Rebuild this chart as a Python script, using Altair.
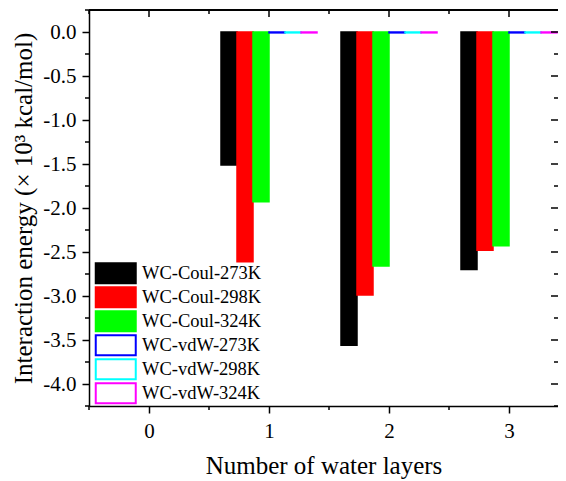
import altair as alt
import pandas as pd

# ---- data ----
layers = [1, 2, 3]
series = ["WC-Coul-273K", "WC-Coul-298K", "WC-Coul-324K",
          "WC-vdW-273K", "WC-vdW-298K", "WC-vdW-324K"]
coul_273 = [-1.51, -3.56, -2.70]
coul_298 = [-2.61, -2.99, -2.48]
coul_324 = [-1.93, -2.66, -2.43]
vdw_273 = [-0.01, -0.01, -0.01]
vdw_298 = [-0.01, -0.01, -0.01]
vdw_324 = [-0.01, -0.01, -0.01]
fill_colors = ["#000000", "#ff0000", "#00ff00", "#ffffff", "#ffffff", "#ffffff"]
stroke_colors = ["#000000", "#ff0000", "#00ff00", "#0000ff", "#00ffff", "#ff00ff"]

x_major = [0, 1, 2, 3]
x_minor = [-0.5, 0.5, 1.5, 2.5]
y_major = [-4.0, -3.5, -3.0, -2.5, -2.0, -1.5, -1.0, -0.5, 0.0]
y_minor = [-4.25, -3.75, -3.25, -2.75, -2.25, -1.75, -1.25, -0.75, -0.25, 0.25]

W, H = 469, 396
FONT = "Liberation Serif"
X_TITLE = "Number of water layers"
Y_TITLE = "Interaction energy (× 10³ kcal/mol)"

rows = []
for i, (name, vals) in enumerate(zip(series, [coul_273, coul_298, coul_324, vdw_273, vdw_298, vdw_324])):
    for lay, v in zip(layers, vals):
        rows.append({"layer": lay, "series": name, "idx": i, "value": v})
df = pd.DataFrame(rows)

xscale = alt.Scale(domain=[-0.5, -0.5 + W / 120.0], nice=False, zero=False)
yscale = alt.Scale(domain=[-4.25, 0.25], nice=False, zero=False)
xaxis = alt.Axis(values=x_major, format="d", tickSize=7, labelPadding=7, titlePadding=12)
yaxis = alt.Axis(values=y_major, tickSize=7, labelPadding=6, titlePadding=6,
                 labelExpr="replace(format(datum.value, '.1f'), '−', '-')")

bars = alt.Chart(df).mark_rect(strokeWidth=1.5).transform_calculate(
    xs="datum.layer - 0.4 + datum.idx * 0.8 / 6",
    xe="datum.layer - 0.4 + (datum.idx + 1) * 0.8 / 6",
).encode(
    x=alt.X("xs:Q", scale=xscale, title=X_TITLE, axis=xaxis),
    x2="xe:Q",
    y=alt.Y("value:Q", scale=yscale, title=Y_TITLE, axis=yaxis),
    y2=alt.datum(0),
    fill=alt.Fill("series:N", scale=alt.Scale(domain=series, range=fill_colors),
                  sort=series, legend=alt.Legend(title=None, orient="none", legendX=17.5, legendY=254)),
    stroke=alt.Stroke("series:N", scale=alt.Scale(domain=series, range=stroke_colors), sort=series),
)

# decorative frame ticks (minor / mirrored) placed through the same scales
df_xmaj = pd.DataFrame({"v": x_major})
df_xmin = pd.DataFrame({"v": x_minor})
df_ymaj = pd.DataFrame({"v": y_major})
df_ymin = pd.DataFrame({"v": y_minor})

rule_kw = dict(color="black", strokeWidth=1.5)


def xenc():
    return alt.X("v:Q", scale=xscale, title=X_TITLE, axis=xaxis)


def yenc():
    return alt.Y("v:Q", scale=yscale, title=Y_TITLE, axis=yaxis)


top_major = alt.Chart(df_xmaj).mark_rule(**rule_kw).encode(
    x=xenc(), y=alt.value(0), y2=alt.value(7))
top_minor = alt.Chart(df_xmin).mark_rule(**rule_kw).encode(
    x=xenc(), y=alt.value(0), y2=alt.value(4))
bot_minor = alt.Chart(df_xmin).mark_rule(**rule_kw).encode(
    x=xenc(), y=alt.value(H), y2=alt.value(H + 4))
right_major = alt.Chart(df_ymaj).mark_rule(**rule_kw).encode(
    y=yenc(), x=alt.value(W - 7), x2=alt.value(W))
right_minor = alt.Chart(df_ymin).mark_rule(**rule_kw).encode(
    y=yenc(), x=alt.value(W - 4), x2=alt.value(W))
left_minor = alt.Chart(df_ymin).mark_rule(**rule_kw).encode(
    y=yenc(), x=alt.value(-4), x2=alt.value(0))
top_line = alt.Chart(df_xmaj).mark_rule(**rule_kw).encode(
    x=alt.value(0), x2=alt.value(W), y=alt.value(0))

chart = alt.layer(
    bars, top_line, top_major, top_minor, bot_minor, right_major, right_minor, left_minor
).properties(
    width=W, height=H,
    autosize=alt.AutoSizeParams(type="none"),
    padding={"left": 81, "top": 2, "right": 0, "bottom": 73},
).configure_view(stroke=None).configure_axis(
    grid=False,
    labelFont=FONT, labelFontSize=21, labelColor="black",
    titleFont=FONT, titleFontSize=25, titleFontWeight="normal", titleColor="black",
    tickColor="black", tickWidth=1.5, domainColor="black", domainWidth=1.5,
).configure_legend(
    symbolType="M-10,-5H10V5H-10Z", symbolSize=16, symbolStrokeWidth=2,
    labelFont=FONT, labelFontSize=18.5, labelColor="black", labelOffset=17,
    rowPadding=-5, padding=0, labelLimit=300,
)

chart.save("out.html", embed_options={"renderer": "svg", "actions": False})
